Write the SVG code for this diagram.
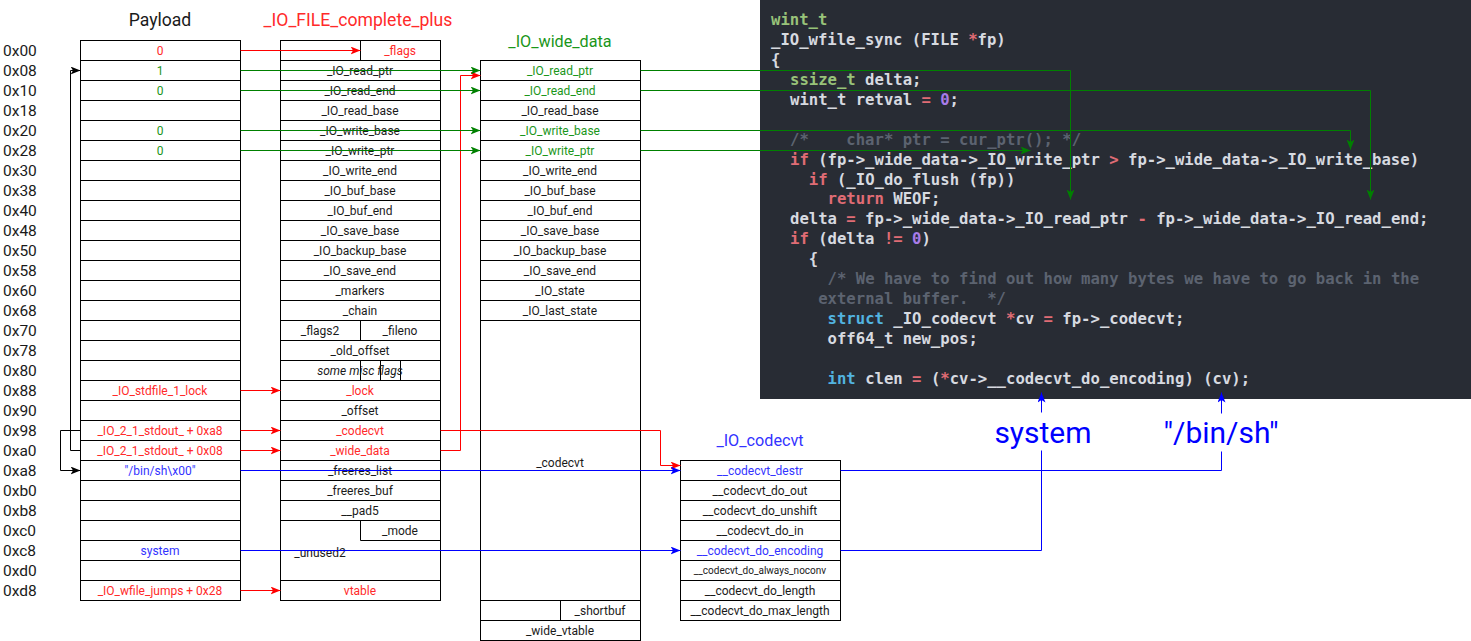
<svg xmlns="http://www.w3.org/2000/svg" width="1471" height="641" viewBox="0 0 1471 641">
  <style>
    .box{fill:#fff;stroke:#000;stroke-width:1}
    .grid{fill:none;stroke:#000;stroke-width:1}
    .t{font-family:Roboto,"Liberation Sans",sans-serif;font-size:12px;text-anchor:middle;fill:#1a1a1a}
    .small{font-size:10px}
    .it{font-style:italic}
    .red{fill:#ff2a2a}
    .grn{fill:#1a961a}
    .blu{fill:#3333ff}
    .off{font-family:Roboto,"Liberation Sans",sans-serif;font-size:15.5px;fill:#1a1a1a}
    .title{font-family:Roboto,"Liberation Sans",sans-serif;text-anchor:middle}
    .big{font-family:Roboto,"Liberation Sans",sans-serif;font-size:30px;text-anchor:middle;fill:#0000ff}
    .code{font-family:"DejaVu Sans Mono","Liberation Mono",monospace;font-size:15.6px;font-weight:bold;fill:#d7dae0;white-space:pre}
    .k{fill:#e06c75}
    .ty{fill:#98c379}
    .n{fill:#a87ce8}
    .c{fill:#5c6370}
    .s{fill:#52b4e0}
    .e{fill:none;stroke-width:1}
    .er{stroke:#ff0000}
    .eg{stroke:#008000}
    .eb{stroke:#0000ff}
    .ek{stroke:#000}
  </style>
  <defs>
    <marker id="ar" viewBox="0 0 10 8" refX="10" refY="4" markerWidth="10" markerHeight="8" markerUnits="userSpaceOnUse" orient="auto"><path d="M0,0 L10,4 L0,8 L2.5,4 Z" fill="#ff0000"/></marker>
    <marker id="ag" viewBox="0 0 10 8" refX="10" refY="4" markerWidth="10" markerHeight="8" markerUnits="userSpaceOnUse" orient="auto"><path d="M0,0 L10,4 L0,8 L2.5,4 Z" fill="#008000"/></marker>
    <marker id="ab" viewBox="0 0 10 8" refX="10" refY="4" markerWidth="10" markerHeight="8" markerUnits="userSpaceOnUse" orient="auto"><path d="M0,0 L10,4 L0,8 L2.5,4 Z" fill="#0000ff"/></marker>
    <marker id="ak" viewBox="0 0 10 8" refX="10" refY="4" markerWidth="10" markerHeight="8" markerUnits="userSpaceOnUse" orient="auto"><path d="M0,0 L10,4 L0,8 L2.5,4 Z" fill="#000"/></marker>
  </defs>

  <rect width="1471" height="641" fill="#fff"/>

  <!-- source listing of _IO_wfile_sync -->
  <g id="code">
    <rect x="760" y="0" width="711" height="399" fill="#282c34"/>
    <g class="code">
      <text x="771" y="25.3" xml:space="preserve"><tspan class="ty">wint_t</tspan></text>
      <text x="771" y="45.2" xml:space="preserve">_IO_wfile_sync (FILE <tspan class="k">*</tspan>fp)</text>
      <text x="771" y="65.1" xml:space="preserve">{</text>
      <text x="790" y="85" xml:space="preserve"><tspan class="ty">ssize_t</tspan> delta;</text>
      <text x="790" y="104.9" xml:space="preserve">wint_t retval <tspan class="k">=</tspan> <tspan class="n">0</tspan>;</text>
      <text x="790" y="144.7" xml:space="preserve"><tspan class="c">/*    char* ptr = cur_ptr(); */</tspan></text>
      <text x="790" y="164.6" xml:space="preserve"><tspan class="k">if</tspan> (fp-&gt;_wide_data-&gt;_IO_write_ptr <tspan class="k">&gt;</tspan> fp-&gt;_wide_data-&gt;_IO_write_base)</text>
      <text x="808.8" y="184.5" xml:space="preserve"><tspan class="k">if</tspan> (_IO_do_flush (fp))</text>
      <text x="827.6" y="204.4" xml:space="preserve"><tspan class="k">return</tspan> WEOF;</text>
      <text x="790" y="224.3" xml:space="preserve">delta <tspan class="k">=</tspan> fp-&gt;_wide_data-&gt;_IO_read_ptr <tspan class="k">-</tspan> fp-&gt;_wide_data-&gt;_IO_read_end;</text>
      <text x="790" y="244.2" xml:space="preserve"><tspan class="k">if</tspan> (delta <tspan class="k">!=</tspan> <tspan class="n">0</tspan>)</text>
      <text x="808.8" y="264.1" xml:space="preserve">{</text>
      <text x="827.6" y="284" xml:space="preserve"><tspan class="c">/* We have to find out how many bytes we have to go back in the</tspan></text>
      <text x="818.2" y="303.9" xml:space="preserve"><tspan class="c">external buffer.  */</tspan></text>
      <text x="827.6" y="323.8" xml:space="preserve"><tspan class="s">struct</tspan> _IO_codecvt <tspan class="k">*</tspan>cv <tspan class="k">=</tspan> fp-&gt;_codecvt;</text>
      <text x="827.6" y="343.7" xml:space="preserve">off64_t new_pos;</text>
      <text x="827.6" y="383.5" xml:space="preserve"><tspan class="s">int</tspan> clen <tspan class="k">=</tspan> (<tspan class="k">*</tspan>cv-&gt;__codecvt_do_encoding) (cv);</text>
    </g>
  </g>

  <!-- offsets -->
  <g id="offsets" class="off">
    <text x="3" y="55.8">0x00</text><text x="3" y="75.8">0x08</text><text x="3" y="95.8">0x10</text><text x="3" y="115.8">0x18</text>
    <text x="3" y="135.8">0x20</text><text x="3" y="155.8">0x28</text><text x="3" y="175.8">0x30</text><text x="3" y="195.8">0x38</text>
    <text x="3" y="215.8">0x40</text><text x="3" y="235.8">0x48</text><text x="3" y="255.8">0x50</text><text x="3" y="275.8">0x58</text>
    <text x="3" y="295.8">0x60</text><text x="3" y="315.8">0x68</text><text x="3" y="335.8">0x70</text><text x="3" y="355.8">0x78</text>
    <text x="3" y="375.8">0x80</text><text x="3" y="395.8">0x88</text><text x="3" y="415.8">0x90</text><text x="3" y="435.8">0x98</text>
    <text x="3" y="455.8">0xa0</text><text x="3" y="475.8">0xa8</text><text x="3" y="495.8">0xb0</text><text x="3" y="515.8">0xb8</text>
    <text x="3" y="535.8">0xc0</text><text x="3" y="555.8">0xc8</text><text x="3" y="575.8">0xd0</text><text x="3" y="595.8">0xd8</text>
  </g>

  <!-- Payload -->
  <g id="payload">
    <text x="160" y="26" class="title" font-size="17.6" fill="#1a1a1a">Payload</text>
    <g transform="translate(0.5,0.5)">
      <rect x="80" y="40" width="160" height="560" class="box"/>
      <path class="grid" d="M80 60h160M80 80h160M80 100h160M80 120h160M80 140h160M80 160h160M80 180h160M80 200h160M80 220h160M80 240h160M80 260h160M80 280h160M80 300h160M80 320h160M80 340h160M80 360h160M80 380h160M80 400h160M80 420h160M80 440h160M80 460h160M80 480h160M80 500h160M80 520h160M80 540h160M80 560h160M80 580h160"/>
    </g>
    <text x="160" y="55" class="t red">0</text>
    <text x="160" y="75" class="t grn">1</text>
    <text x="160" y="95" class="t grn">0</text>
    <text x="160" y="135" class="t grn">0</text>
    <text x="160" y="155" class="t grn">0</text>
    <text x="160" y="395" class="t red">_IO_stdfile_1_lock</text>
    <text x="160" y="435" class="t red">_IO_2_1_stdout_ + 0xa8</text>
    <text x="160" y="455" class="t red">_IO_2_1_stdout_ + 0x08</text>
    <text x="160" y="475" class="t blu">"/bin/sh\x00"</text>
    <text x="160" y="555" class="t blu">system</text>
    <text x="160" y="595" class="t red">_IO_wfile_jumps + 0x28</text>
  </g>

  <!-- _IO_FILE_complete_plus -->
  <g id="io-file">
    <text x="358" y="26" class="title" font-size="17.6" fill="#ff2a2a">_IO_FILE_complete_plus</text>
    <g transform="translate(0.5,0.5)">
      <rect x="280" y="40" width="160" height="560" class="box"/>
      <path class="grid" d="M280 60h160M280 80h160M280 100h160M280 120h160M280 140h160M280 160h160M280 180h160M280 200h160M280 220h160M280 240h160M280 260h160M280 280h160M280 300h160M280 320h160M280 340h160M280 360h160M280 380h160M280 400h160M280 420h160M280 440h160M280 460h160M280 480h160M280 500h160M280 520h160M280 580h160"/>
      <path class="grid" d="M360 40v20M360 320v20M360 360v20M380 360v20M400 360v20M360 520v20h80"/>
    </g>
    <text x="400" y="55" class="t red">_flags</text>
    <text x="360" y="75" class="t">_IO_read_ptr</text>
    <text x="360" y="95" class="t">_IO_read_end</text>
    <text x="360" y="115" class="t">_IO_read_base</text>
    <text x="360" y="135" class="t">_IO_write_base</text>
    <text x="360" y="155" class="t">_IO_write_ptr</text>
    <text x="360" y="175" class="t">_IO_write_end</text>
    <text x="360" y="195" class="t">_IO_buf_base</text>
    <text x="360" y="215" class="t">_IO_buf_end</text>
    <text x="360" y="235" class="t">_IO_save_base</text>
    <text x="360" y="255" class="t">_IO_backup_base</text>
    <text x="360" y="275" class="t">_IO_save_end</text>
    <text x="360" y="295" class="t">_markers</text>
    <text x="360" y="315" class="t">_chain</text>
    <text x="320" y="335" class="t">_flags2</text>
    <text x="400" y="335" class="t">_fileno</text>
    <text x="360" y="355" class="t">_old_offset</text>
    <text x="360" y="375" class="t it">some misc flags</text>
    <text x="360" y="395" class="t red">_lock</text>
    <text x="360" y="415" class="t">_offset</text>
    <text x="360" y="435" class="t red">_codecvt</text>
    <text x="360" y="455" class="t red">_wide_data</text>
    <text x="360" y="475" class="t">_freeres_list</text>
    <text x="360" y="495" class="t">_freeres_buf</text>
    <text x="360" y="515" class="t">__pad5</text>
    <text x="400" y="535" class="t">_mode</text>
    <text x="320" y="556.5" class="t">_unused2</text>
    <text x="360" y="595" class="t red">vtable</text>
  </g>

  <!-- _IO_wide_data -->
  <g id="wide-data">
    <text x="560" y="46.5" class="title" font-size="16.2" fill="#1a961a">_IO_wide_data</text>
    <g transform="translate(0.5,0.5)">
      <rect x="480" y="60" width="160" height="580" class="box"/>
      <path class="grid" d="M480 80h160M480 100h160M480 120h160M480 140h160M480 160h160M480 180h160M480 200h160M480 220h160M480 240h160M480 260h160M480 280h160M480 300h160M480 320h160M480 600h160M480 620h160M560 600v20"/>
    </g>
    <text x="560" y="75" class="t grn">_IO_read_ptr</text>
    <text x="560" y="95" class="t grn">_IO_read_end</text>
    <text x="560" y="115" class="t">_IO_read_base</text>
    <text x="560" y="135" class="t grn">_IO_write_base</text>
    <text x="560" y="155" class="t grn">_IO_write_ptr</text>
    <text x="560" y="175" class="t">_IO_write_end</text>
    <text x="560" y="195" class="t">_IO_buf_base</text>
    <text x="560" y="215" class="t">_IO_buf_end</text>
    <text x="560" y="235" class="t">_IO_save_base</text>
    <text x="560" y="255" class="t">_IO_backup_base</text>
    <text x="560" y="275" class="t">_IO_save_end</text>
    <text x="560" y="295" class="t">_IO_state</text>
    <text x="560" y="315" class="t">_IO_last_state</text>
    <text x="560" y="467" class="t">_codecvt</text>
    <text x="600" y="615" class="t">_shortbuf</text>
    <text x="560" y="635" class="t">_wide_vtable</text>
  </g>

  <!-- _IO_codecvt -->
  <g id="codecvt">
    <text x="760" y="446" class="title" font-size="16.2" fill="#3333ff">_IO_codecvt</text>
    <g transform="translate(0.5,0.5)">
      <rect x="680" y="460" width="160" height="160" class="box"/>
      <path class="grid" d="M680 480h160M680 500h160M680 520h160M680 540h160M680 560h160M680 580h160M680 600h160"/>
    </g>
    <text x="760" y="475" class="t blu">__codecvt_destr</text>
    <text x="760" y="495" class="t">__codecvt_do_out</text>
    <text x="760" y="515" class="t">__codecvt_do_unshift</text>
    <text x="760" y="535" class="t">__codecvt_do_in</text>
    <text x="760" y="555" class="t blu">__codecvt_do_encoding</text>
    <text x="760" y="574" class="t small">__codecvt_do_always_noconv</text>
    <text x="760" y="595" class="t">__codecvt_do_length</text>
    <text x="760" y="615" class="t">__codecvt_do_max_length</text>
  </g>

  <!-- value labels below the listing -->
  <g id="labels">
    <text x="1043" y="443" class="big">system</text>
    <text x="1221" y="443" class="big">"/bin/sh"</text>
  </g>

  <g id="connectors" transform="translate(0.5,0.5)">
    <!-- payload -> _IO_FILE -->
    <path class="e er" d="M240 50H360" marker-end="url(#ar)"/>
    <path class="e er" d="M240 390H280" marker-end="url(#ar)"/>
    <path class="e er" d="M240 430H280" marker-end="url(#ar)"/>
    <path class="e er" d="M240 450H280" marker-end="url(#ar)"/>
    <path class="e er" d="M240 590H280" marker-end="url(#ar)"/>
    <!-- _IO_FILE -> _IO_wide_data / _IO_codecvt -->
    <path class="e er" d="M440 450H460V75H480" marker-end="url(#ar)"/>
    <path class="e er" d="M440 430H660V465H680" marker-end="url(#ar)"/>
    <!-- payload -> _IO_wide_data -->
    <path class="e eg" d="M240 70H480" marker-end="url(#ag)"/>
    <path class="e eg" d="M240 90H480" marker-end="url(#ag)"/>
    <path class="e eg" d="M240 130H480" marker-end="url(#ag)"/>
    <path class="e eg" d="M240 150H480" marker-end="url(#ag)"/>
    <!-- _IO_wide_data -> source -->
    <path class="e eg" d="M640 70H1070V199" marker-end="url(#ag)"/>
    <path class="e eg" d="M640 90H1370V199" marker-end="url(#ag)"/>
    <path class="e eg" d="M640 130H1350V149" marker-end="url(#ag)"/>
    <path class="e eg" d="M640 150H1030" marker-end="url(#ag)"/>
    <!-- payload -> _IO_codecvt -->
    <path class="e eb" d="M240 470H680" marker-end="url(#ab)"/>
    <path class="e eb" d="M240 550H680" marker-end="url(#ab)"/>
    <!-- _IO_codecvt -> source -->
    <path class="e eb" d="M840 470H1221V451"/>
    <path class="e eb" d="M1221 413V392" marker-end="url(#ab)"/>
    <path class="e eb" d="M840 550H1041V450"/>
    <path class="e eb" d="M1041 412V392" marker-end="url(#ab)"/>
    <!-- payload self references -->
    <path class="e ek" d="M80 430H60V470H80" marker-end="url(#ak)"/>
    <path class="e ek" d="M80 450H70V70H80" marker-end="url(#ak)"/>
  </g>
</svg>
